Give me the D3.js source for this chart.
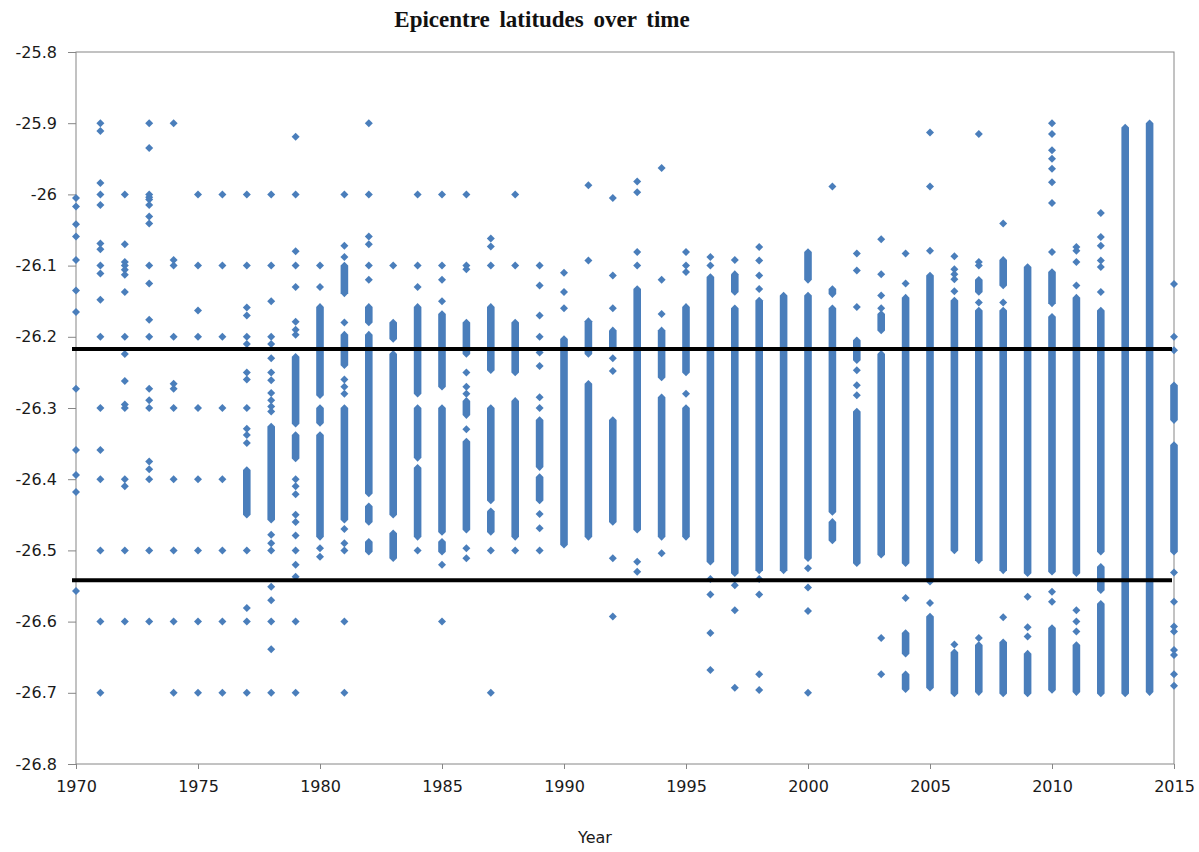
<!DOCTYPE html>
<html>
<head>
<script src="https://d3js.org/d3.v7.min.js"></script>
<style>
  body { margin: 0; background: #fff; }
  .tick text { font-family: "DejaVu Sans", sans-serif; font-size: 16px; fill: #1a1a1a; }
  .tick line { stroke: #868686; }
  .domain { display: none; }
</style>
</head>
<body>
<script>
// axis ticks
var xTicks = [1970, 1975, 1980, 1985, 1990, 1995, 2000, 2005, 2010, 2015];
var yTicks = [-26.8, -26.7, -26.6, -26.5, -26.4, -26.3, -26.2, -26.1, -26, -25.9, -25.8];
var yTickLabels = ["-26.8", "-26.7", "-26.6", "-26.5", "-26.4", "-26.3", "-26.2", "-26.1", "-26", "-25.9", "-25.8"];
// the two black reference lines
var refLines = [-26.217, -26.542];

// single epicentres per year (latitude)
var p1970 = [-26.005, -26.017, -26.042, -26.059, -26.092, -26.135, -26.165, -26.273, -26.359, -26.394, -26.418, -26.557];
var p1971 = [-25.9, -25.911, -25.984, -26.0, -26.015, -26.069, -26.077, -26.1, -26.111, -26.148, -26.2, -26.3, -26.359, -26.4, -26.5, -26.6, -26.7];
var p1972 = [-26.0, -26.07, -26.095, -26.1, -26.106, -26.113, -26.137, -26.2, -26.224, -26.262, -26.295, -26.3, -26.4, -26.41, -26.5, -26.6];
var p1973 = [-25.9, -25.935, -26.0, -26.004, -26.007, -26.015, -26.031, -26.041, -26.1, -26.125, -26.176, -26.2, -26.273, -26.289, -26.3, -26.375, -26.386, -26.4, -26.5, -26.6];
var p1974 = [-25.9, -26.092, -26.1, -26.2, -26.266, -26.273, -26.3, -26.4, -26.5, -26.6, -26.7];
var p1975 = [-26.0, -26.1, -26.163, -26.2, -26.3, -26.4, -26.5, -26.6, -26.7];
var p1976 = [-26.0, -26.1, -26.2, -26.3, -26.4, -26.5, -26.6, -26.7];
var p1977 = [-26.0, -26.1, -26.159, -26.17, -26.2, -26.21, -26.25, -26.26, -26.3, -26.329, -26.338, -26.349, -26.5, -26.581, -26.6, -26.7];
var p1978 = [-26.0, -26.1, -26.15, -26.2, -26.21, -26.23, -26.25, -26.261, -26.279, -26.289, -26.298, -26.305, -26.478, -26.49, -26.5, -26.551, -26.57, -26.6, -26.639, -26.7];
var p1979 = [-25.919, -26.0, -26.08, -26.1, -26.13, -26.179, -26.19, -26.197, -26.4, -26.41, -26.421, -26.45, -26.46, -26.479, -26.5, -26.52, -26.537, -26.6, -26.7];
var p1980 = [-26.1, -26.13, -26.497, -26.509];
var p1981 = [-26.0, -26.072, -26.088, -26.18, -26.26, -26.27, -26.28, -26.47, -26.49, -26.5, -26.6, -26.7];
var p1982 = [-25.9, -26.0, -26.059, -26.07, -26.1, -26.12];
var p1983 = [-26.1];
var p1984 = [-26.0, -26.1, -26.13, -26.5];
var p1985 = [-26.0, -26.1, -26.12, -26.15, -26.52, -26.6];
var p1986 = [-26.0, -26.1, -26.105, -26.25, -26.27, -26.28, -26.33, -26.497, -26.511];
var p1987 = [-26.062, -26.073, -26.1, -26.5, -26.7];
var p1988 = [-26.0, -26.1, -26.5];
var p1989 = [-26.1, -26.128, -26.17, -26.2, -26.222, -26.241, -26.285, -26.3, -26.449, -26.469, -26.5];
var p1990 = [-26.11, -26.137, -26.16];
var p1991 = [-25.987, -26.093];
var p1992 = [-26.005, -26.114, -26.16, -26.23, -26.248, -26.511, -26.593];
var p1993 = [-25.982, -25.997, -26.081, -26.1, -26.516, -26.53];
var p1994 = [-25.963, -26.12, -26.168, -26.504];
var p1995 = [-26.081, -26.1, -26.109, -26.28];
var p1996 = [-26.088, -26.1, -26.54, -26.562, -26.616, -26.668];
var p1997 = [-26.092, -26.549, -26.584, -26.693];
var p1998 = [-26.074, -26.093, -26.114, -26.133, -26.54, -26.562, -26.674, -26.696];
var p1999 = [];
var p2000 = [-26.525, -26.552, -26.585, -26.7];
var p2001 = [-25.989];
var p2002 = [-26.083, -26.107, -26.158, -26.247, -26.268, -26.282];
var p2003 = [-26.063, -26.112, -26.142, -26.16, -26.623, -26.674];
var p2004 = [-26.083, -26.125, -26.567];
var p2005 = [-25.913, -25.989, -26.079, -26.574];
var p2006 = [-26.087, -26.105, -26.112, -26.119, -26.136, -26.632];
var p2007 = [-25.915, -26.095, -26.1, -26.152, -26.623];
var p2008 = [-26.041, -26.152, -26.594];
var p2009 = [-26.565, -26.608, -26.621];
var p2010 = [-25.9, -25.915, -25.938, -25.95, -25.964, -25.983, -26.012, -26.081, -26.558, -26.572];
var p2011 = [-26.074, -26.079, -26.095, -26.128, -26.584, -26.6, -26.614];
var p2012 = [-26.026, -26.06, -26.072, -26.093, -26.102, -26.137];
var p2013 = [];
var p2014 = [];
var p2015 = [-26.126, -26.2, -26.219, -26.531, -26.572, -26.607, -26.614, -26.64, -26.647, -26.674, -26.69];

// runs of overlapping epicentres per year: [top, bottom]
var b1970 = [], b1971 = [], b1972 = [], b1973 = [], b1974 = [], b1975 = [], b1976 = [];
var b1977 = [[-26.387, -26.45]];
var b1978 = [[-26.326, -26.457]];
var b1979 = [[-26.228, -26.322], [-26.338, -26.371]];
var b1980 = [[-26.158, -26.282], [-26.3, -26.321], [-26.338, -26.481]];
var b1981 = [[-26.1, -26.139], [-26.197, -26.24], [-26.3, -26.457]];
var b1982 = [[-26.158, -26.18], [-26.197, -26.42], [-26.438, -26.46], [-26.488, -26.502]];
var b1983 = [[-26.18, -26.203], [-26.224, -26.45], [-26.476, -26.511]];
var b1984 = [[-26.158, -26.28], [-26.3, -26.37], [-26.384, -26.481]];
var b1985 = [[-26.168, -26.27], [-26.3, -26.474], [-26.488, -26.502]];
var b1986 = [[-26.18, -26.224], [-26.29, -26.31], [-26.347, -26.471]];
var b1987 = [[-26.158, -26.247], [-26.3, -26.43], [-26.445, -26.474]];
var b1988 = [[-26.18, -26.25], [-26.29, -26.481]];
var b1989 = [[-26.317, -26.383], [-26.397, -26.43]];
var b1990 = [[-26.203, -26.492]];
var b1991 = [[-26.178, -26.224], [-26.266, -26.481]];
var b1992 = [[-26.191, -26.215], [-26.317, -26.46]];
var b1993 = [[-26.133, -26.471]];
var b1994 = [[-26.191, -26.257], [-26.285, -26.481]];
var b1995 = [[-26.158, -26.25], [-26.3, -26.481]];
var b1996 = [[-26.116, -26.516]];
var b1997 = [[-26.112, -26.137], [-26.16, -26.532]];
var b1998 = [[-26.149, -26.528]];
var b1999 = [[-26.142, -26.528]];
var b2000 = [[-26.081, -26.12], [-26.142, -26.511]];
var b2001 = [[-26.133, -26.14], [-26.16, -26.446], [-26.46, -26.486]];
var b2002 = [[-26.205, -26.233], [-26.305, -26.518]];
var b2003 = [[-26.168, -26.191], [-26.224, -26.506]];
var b2004 = [[-26.145, -26.518], [-26.616, -26.645], [-26.674, -26.695]];
var b2005 = [[-26.114, -26.544], [-26.593, -26.693]];
var b2006 = [[-26.149, -26.5], [-26.643, -26.701]];
var b2007 = [[-26.12, -26.137], [-26.163, -26.514], [-26.633, -26.699]];
var b2008 = [[-26.092, -26.128], [-26.163, -26.528], [-26.629, -26.701]];
var b2009 = [[-26.102, -26.532], [-26.645, -26.701]];
var b2010 = [[-26.109, -26.153], [-26.172, -26.53], [-26.609, -26.696]];
var b2011 = [[-26.145, -26.532], [-26.633, -26.699]];
var b2012 = [[-26.163, -26.502], [-26.523, -26.556], [-26.575, -26.701]];
var b2013 = [[-25.906, -26.701]];
var b2014 = [[-25.9, -26.699]];
var b2015 = [[-26.268, -26.317], [-26.352, -26.502]];

var years = d3.range(1970, 2016);
var pts = [p1970, p1971, p1972, p1973, p1974, p1975, p1976, p1977, p1978, p1979,
  p1980, p1981, p1982, p1983, p1984, p1985, p1986, p1987, p1988, p1989,
  p1990, p1991, p1992, p1993, p1994, p1995, p1996, p1997, p1998, p1999,
  p2000, p2001, p2002, p2003, p2004, p2005, p2006, p2007, p2008, p2009,
  p2010, p2011, p2012, p2013, p2014, p2015];
var runs = [b1970, b1971, b1972, b1973, b1974, b1975, b1976, b1977, b1978, b1979,
  b1980, b1981, b1982, b1983, b1984, b1985, b1986, b1987, b1988, b1989,
  b1990, b1991, b1992, b1993, b1994, b1995, b1996, b1997, b1998, b1999,
  b2000, b2001, b2002, b2003, b2004, b2005, b2006, b2007, b2008, b2009,
  b2010, b2011, b2012, b2013, b2014, b2015];

// flatten into rows for d3
var points = [], bands = [];
years.forEach(function (yr, i) {
  pts[i].forEach(function (v) { points.push({ year: yr, lat: v }); });
  runs[i].forEach(function (r) { bands.push({ year: yr, top: r[0], bottom: r[1] }); });
});

var W = 1199, H = 852;
var plotL = 76, plotR = 1174, plotT = 52, plotB = 764;
var col = "#4a7ebb";

var x = d3.scaleLinear().domain([1970, 2015]).range([plotL, plotR]);
var y = d3.scaleLinear().domain([-26.8, -25.8]).range([plotB, plotT]);

var svg = d3.select("body").append("svg")
  .attr("width", W).attr("height", H)
  .style("display", "block");

// plot frame
svg.append("rect")
  .attr("x", plotL).attr("y", plotT)
  .attr("width", plotR - plotL).attr("height", plotB - plotT)
  .attr("fill", "none").attr("stroke", "#868686").attr("stroke-width", 1);

// axes
svg.append("g")
  .attr("transform", "translate(0," + plotB + ")")
  .call(d3.axisBottom(x).tickValues(xTicks).tickFormat(d3.format("d")).tickSize(5).tickPadding(12));

svg.append("g")
  .attr("transform", "translate(" + plotL + ",0)")
  .call(d3.axisLeft(y).tickValues(yTicks)
    .tickFormat(function (d, i) { return yTickLabels[i]; })
    .tickSize(8).tickPadding(11));

// dense runs drawn as stretched diamonds
var rb = 3.8, r = 4;
svg.append("g").selectAll("path")
  .data(bands)
  .enter().append("path")
  .attr("fill", col)
  .attr("d", function (d) {
    var cx = x(d.year), y0 = y(d.top), y1 = y(d.bottom);
    return "M" + cx + "," + (y0 - rb) + "L" + (cx + rb) + "," + y0 + "L" + (cx + rb) + "," + y1 +
      "L" + cx + "," + (y1 + rb) + "L" + (cx - rb) + "," + y1 + "L" + (cx - rb) + "," + y0 + "Z";
  });

// single points
svg.append("g").selectAll("path")
  .data(points)
  .enter().append("path")
  .attr("fill", col)
  .attr("transform", function (d) { return "translate(" + x(d.year) + "," + y(d.lat) + ")"; })
  .attr("d", "M0," + (-r) + "L" + r + ",0L0," + r + "L" + (-r) + ",0Z");

// reference lines
svg.append("g").selectAll("line")
  .data(refLines)
  .enter().append("line")
  .attr("x1", plotL - 4).attr("x2", plotR - 2)
  .attr("y1", function (d) { return y(d); })
  .attr("y2", function (d) { return y(d); })
  .attr("stroke", "#000").attr("stroke-width", 4);

// titles
svg.append("text")
  .attr("x", 542).attr("y", 27)
  .attr("text-anchor", "middle")
  .style("font-family", "'Liberation Serif', 'Times New Roman', serif")
  .style("font-weight", "bold").style("font-size", "23px")
  .style("word-spacing", "4px")
  .attr("fill", "#111")
  .text("Epicentre latitudes over time");

svg.append("text")
  .attr("x", 595).attr("y", 843)
  .attr("text-anchor", "middle")
  .style("font-family", "'DejaVu Sans', sans-serif")
  .style("font-size", "16px")
  .attr("fill", "#1a1a1a")
  .text("Year");
</script>
</body>
</html>
